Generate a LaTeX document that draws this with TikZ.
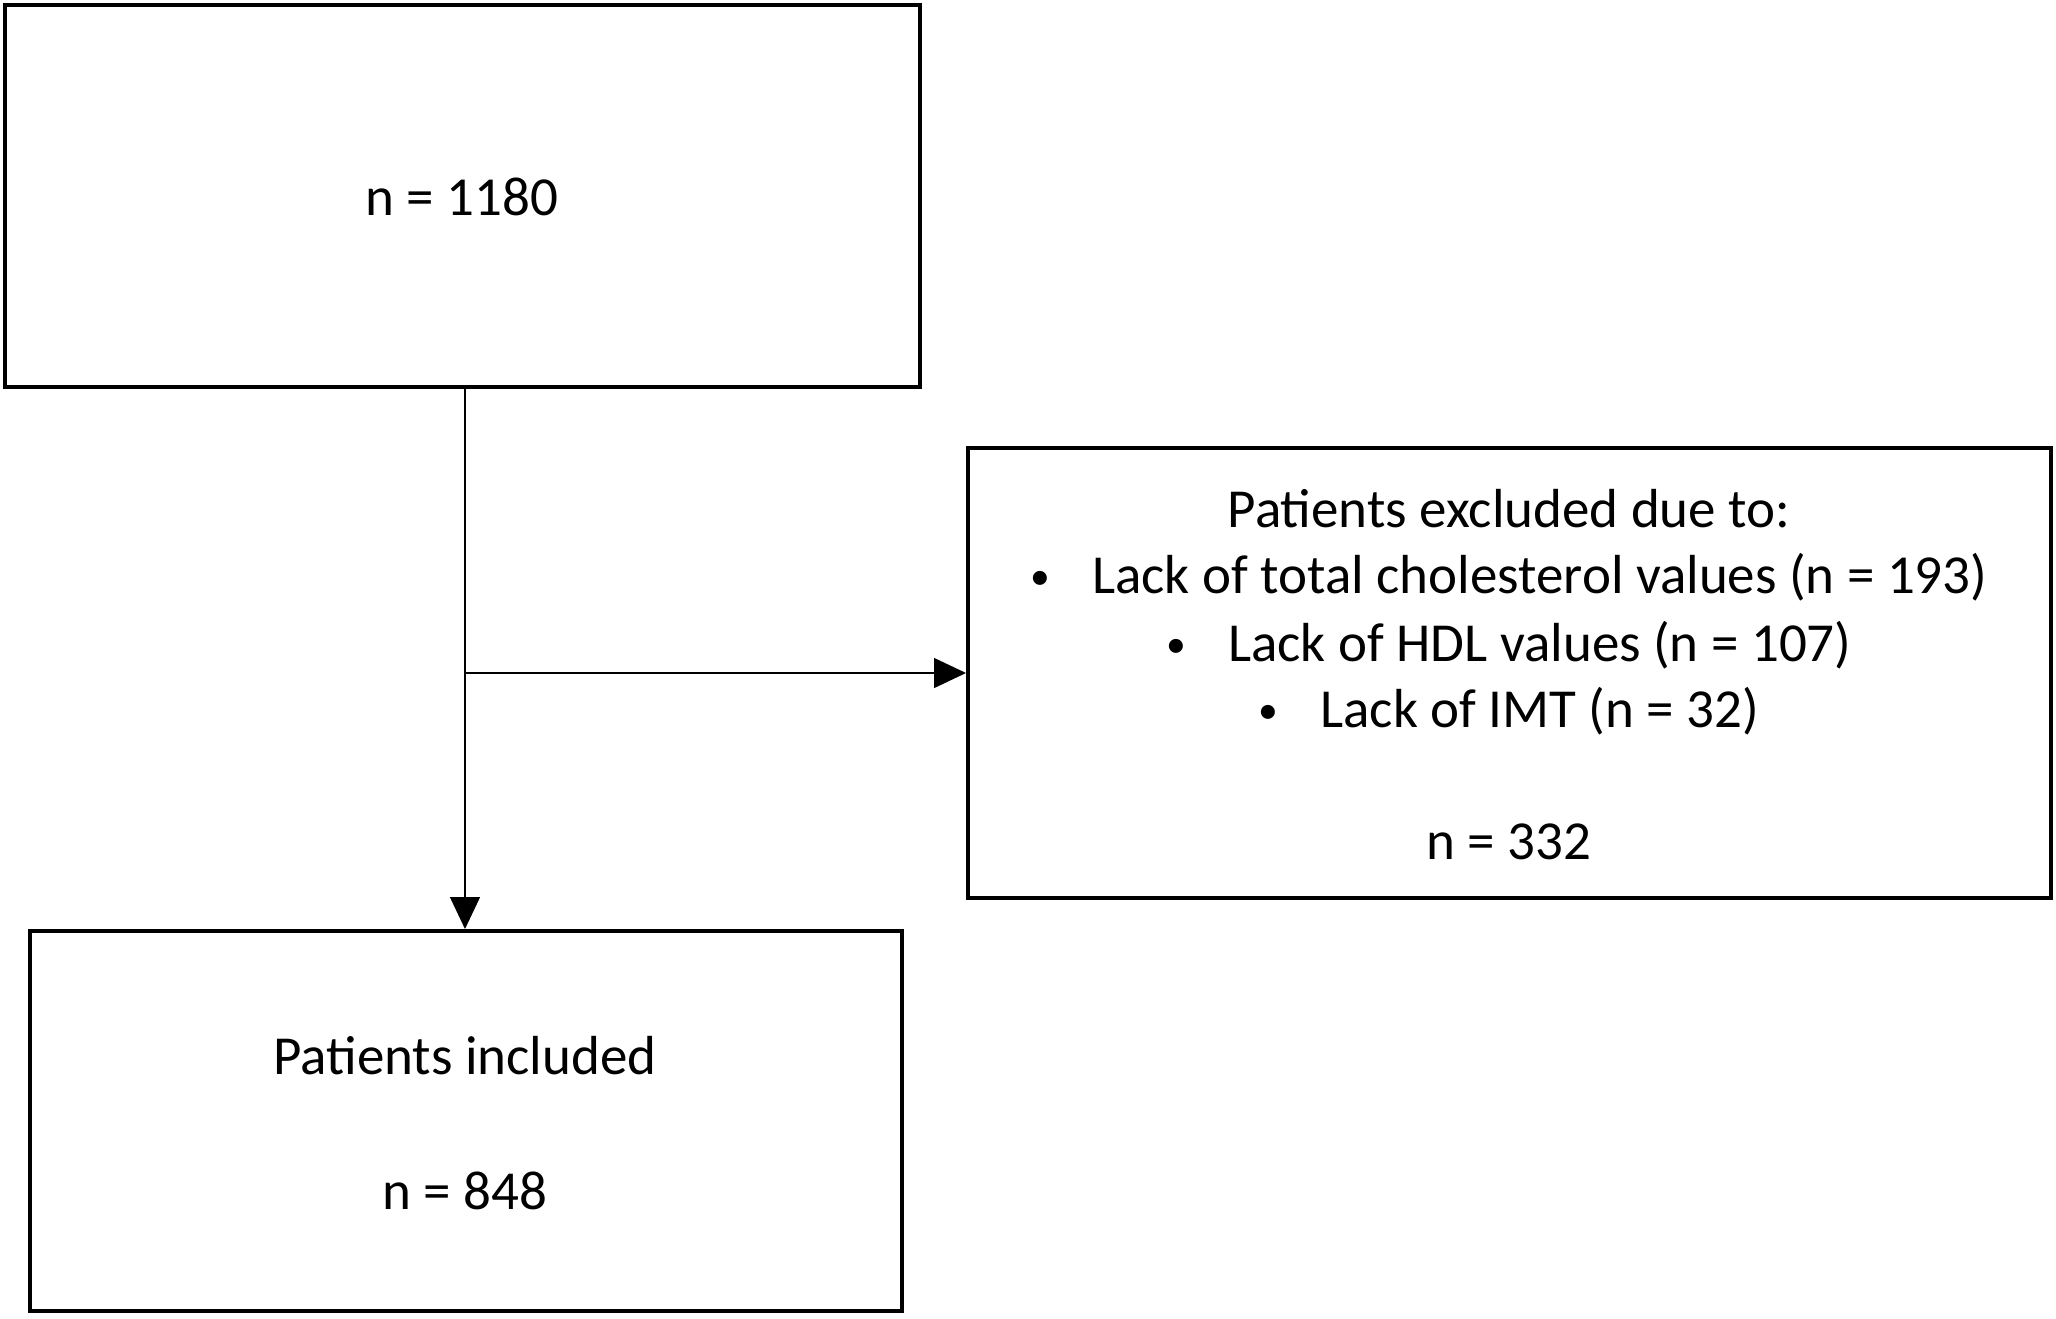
\documentclass[tikz,border=0pt]{standalone}
\usepackage{fontspec}
\usepackage{graphicx}
\setmainfont{Carlito}
\usetikzlibrary{arrows.meta}
\newcommand{\smallbul}{\raisebox{0.07em}{\scalebox{0.72}{\textbullet}}\hspace{21pt}}
\begin{document}
\begin{tikzpicture}[x=0.5pt,y=-0.5pt,
  box/.style={draw,line width=2pt,rectangle,inner sep=0pt},
  txt/.style={anchor=base,inner sep=0pt,font=\fontsize{27.5}{33}\selectfont},
  conn/.style={line width=0.7pt,-{Triangle[length=16pt,width=15pt]}}]
\useasboundingbox (0,0) rectangle (2056,1318);
\node[box,minimum width=915*0.5pt,minimum height=382*0.5pt] (top) at (462.5,196) {};
\node[box,minimum width=1083*0.5pt,minimum height=450*0.5pt] (excl) at (1509.5,673) {};
\node[box,minimum width=872*0.5pt,minimum height=380*0.5pt] (incl) at (466,1121) {};
\node[txt] (t1) at (462,215) {n = 1180};
\node[txt] (e0) at (1509,527) {Patients excluded due to:};
\node[txt] (e1) at (1509,593) {\smallbul Lack of total cholesterol values (n = 193)};
\node[txt] (e2) at (1509,661) {\smallbul Lack of HDL values (n = 107)};
\node[txt] (e3) at (1509,727) {\smallbul Lack of IMT (n = 32)};
\node[txt] (e4) at (1509,859) {n = 332};
\node[txt] (i0) at (465,1074) {Patients included};
\node[txt] (i1) at (465,1209) {n = 848};
\coordinate (j) at (465,673);
\draw[line width=0.7pt] (top.south -| j) -- (j);
\draw[conn] (j) -- (j |- incl.north);
\draw[conn] (j) -- (excl.west);
\end{tikzpicture}
\end{document}
